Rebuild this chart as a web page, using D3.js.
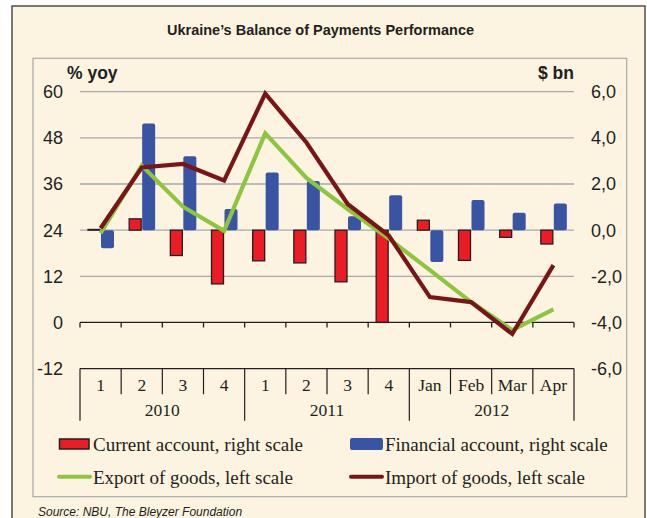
<!DOCTYPE html>
<html>
<head>
<meta charset="utf-8">
<script src="https://cdn.jsdelivr.net/npm/d3@7"></script>
<style>
  body { margin: 0; background: #ffffff; }
  text { fill: #231f20; }
</style>
</head>
<body>
<div id="main"></div>
<script>
// categories on the x axis
var periods = ["2010-1", "2010-2", "2010-3", "2010-4", "2011-1", "2011-2", "2011-3", "2011-4",
               "2012-01", "2012-02", "2012-03", "2012-04"];
var periodLabels = ["1", "2", "3", "4", "1", "2", "3", "4", "Jan", "Feb", "Mar", "Apr"];
var years = ["2010", "2011", "2012"];
var yearSpans = [4, 4, 4];

// series ($ bn, right scale)
var currentAccount = [0.03, 0.49, -1.1, -2.33, -1.33, -1.42, -2.24, -4.0, 0.43, -1.31, -0.31, -0.6];
var financialAccount = [-0.78, 4.62, 3.2, 0.92, 2.5, 2.13, 0.6, 1.51, -1.38, 1.31, 0.75, 1.15];
// series (% yoy, left scale)
var exportGoods = [23.2, 40.8, 30.1, 23.8, 49.2, 37.6, 29.5, 21.8, 13.6, 5.3, -2.0, 3.4];
var importGoods = [24.5, 40.3, 41.2, 36.9, 59.5, 46.8, 30.8, 22.6, 6.6, 5.3, -3.0, 14.9];

// ticks
var leftTicks = [60, 48, 36, 24, 12, 0, -12];
var rightTicks = [6, 4, 2, 0, -2, -4, -6];
var gridTicks = [60, 48, 36, 24, 12];

var ctx = {
    w: 647,
    h: 518,
    left: 80,
    right: 574,
    top: 91.7,
    bottom: 368.6,
    ink: "#231f20",
    red: "#ed1c24",
    blue: "#3a54a4",
    green: "#8cc63f",
    maroon: "#7a1517",
    beige: "#fcf3e1",
    grid: "#a7a9ac"
};

var loc = d3.formatLocale({decimal: ",", thousands: " ", grouping: [3], currency: ["", ""], minus: "-"});
var fmtLeft = loc.format("d");
var fmtRight = loc.format(".1f");

var createChart = function(svg) {
    // 1. frames
    svg.append("rect")
        .attr("x", 12).attr("y", 6)
        .attr("width", 633).attr("height", 530)
        .attr("fill", ctx.beige)
        .attr("stroke", "#4d4d4f")
        .attr("stroke-width", 1.5);
    svg.append("rect")
        .attr("x", 33).attr("y", 58.3)
        .attr("width", 593.7).attr("height", 438.4)
        .attr("fill", "none")
        .attr("stroke", "#a7a9ac")
        .attr("stroke-width", 1.2);

    svg.append("text")
        .attr("x", 320.5).attr("y", 35)
        .attr("text-anchor", "middle")
        .attr("textLength", 307)
        .attr("lengthAdjust", "spacingAndGlyphs")
        .style("font", "bold 15.5px 'Liberation Sans', Arial, sans-serif")
        .text("Ukraine\u2019s Balance of Payments Performance");

    // 2. scales
    var x = d3.scaleBand().domain(periods).range([ctx.left, ctx.right]).padding(0);
    var inner = d3.scaleBand().domain(["ca", "fa"]).range([8, 34]);
    var yL = d3.scaleLinear().domain([-12, 60]).range([ctx.bottom, ctx.top]);
    var yR = d3.scaleLinear().domain([-6, 6]).range([ctx.bottom, ctx.top]);

    // 2.a gridlines
    svg.append("g").selectAll("line")
        .data(gridTicks)
        .enter()
        .append("line")
        .attr("x1", ctx.left).attr("x2", ctx.right)
        .attr("y1", function(d) { return yL(d); })
        .attr("y2", function(d) { return yL(d); })
        .attr("stroke", ctx.grid)
        .attr("stroke-width", 1.3);

    // 2.b axis labels
    svg.append("g").selectAll("text")
        .data(leftTicks)
        .enter()
        .append("text")
        .attr("x", 63)
        .attr("y", function(d) { return yL(d); })
        .attr("dy", "0.36em")
        .attr("text-anchor", "end")
        .style("font", "18px 'Liberation Sans', Arial, sans-serif")
        .text(function(d) { return fmtLeft(d); });
    svg.append("g").selectAll("text")
        .data(rightTicks)
        .enter()
        .append("text")
        .attr("x", 591)
        .attr("y", function(d) { return yR(d); })
        .attr("dy", "0.36em")
        .style("font", "18px 'Liberation Sans', Arial, sans-serif")
        .text(function(d) { return fmtRight(d); });

    svg.append("text")
        .attr("x", 67).attr("y", 79)
        .style("font", "bold 17.5px 'Liberation Sans', Arial, sans-serif")
        .text("% yoy");
    svg.append("text")
        .attr("x", 538).attr("y", 79)
        .style("font", "bold 17.5px 'Liberation Sans', Arial, sans-serif")
        .text("$ bn");

    // 3. bars
    var barData = periods.map(function(p, i) {
        return {p: p, ca: currentAccount[i], fa: financialAccount[i]};
    });
    svg.append("g").selectAll("rect")
        .data(barData)
        .enter()
        .append("rect")
        .attr("x", function(d) { return x(d.p) + inner("fa"); })
        .attr("y", function(d) { return yR(Math.max(0, d.fa)); })
        .attr("width", inner.bandwidth())
        .attr("height", function(d) { return Math.abs(yR(d.fa) - yR(0)); })
        .attr("rx", 2)
        .attr("fill", ctx.blue);
    svg.append("g").selectAll("rect")
        .data(barData)
        .enter()
        .append("rect")
        .attr("x", function(d) { return x(d.p) + inner("ca"); })
        .attr("y", function(d) { return yR(Math.max(0, d.ca)); })
        .attr("width", inner.bandwidth() - 1)
        .attr("height", function(d) { return Math.abs(yR(d.ca) - yR(0)); })
        .attr("fill", ctx.red)
        .attr("stroke", ctx.ink)
        .attr("stroke-width", 1.3);

    // 3.b x axis at 0 (left scale) with ticks between categories
    var bounds = periods.map(function(p) { return x(p); }).concat([ctx.right]);
    var axis = svg.append("g");
    axis.append("line")
        .attr("x1", ctx.left).attr("x2", ctx.right)
        .attr("y1", yL(0)).attr("y2", yL(0))
        .attr("stroke", ctx.ink).attr("stroke-width", 1.3);
    axis.selectAll("line.tick")
        .data(bounds)
        .enter()
        .append("line")
        .attr("class", "tick")
        .attr("x1", function(d) { return d; }).attr("x2", function(d) { return d; })
        .attr("y1", yL(0)).attr("y2", yL(0) + 5)
        .attr("stroke", ctx.ink).attr("stroke-width", 1.3);

    // 4. lines
    var line = d3.line()
        .x(function(d, i) { return x(periods[i]) + x.bandwidth() / 2; })
        .y(function(d) { return yL(d); });
    svg.append("path")
        .datum(exportGoods)
        .attr("d", line)
        .attr("fill", "none")
        .attr("stroke", ctx.green)
        .attr("stroke-width", 4.2);
    svg.append("path")
        .datum(importGoods)
        .attr("d", line)
        .attr("fill", "none")
        .attr("stroke", ctx.maroon)
        .attr("stroke-width", 4.2);

    // 5. category table below
    var table = svg.append("g")
        .attr("stroke", ctx.ink)
        .attr("stroke-width", 1.2);
    table.append("line")
        .attr("x1", ctx.left).attr("x2", ctx.right)
        .attr("y1", ctx.bottom).attr("y2", ctx.bottom);
    var yearBounds = [0];
    yearSpans.forEach(function(n, i) { yearBounds.push(yearBounds[i] + n); });
    table.selectAll("line.sep")
        .data(bounds)
        .enter()
        .append("line")
        .attr("class", "sep")
        .attr("x1", function(d) { return d; }).attr("x2", function(d) { return d; })
        .attr("y1", ctx.bottom)
        .attr("y2", function(d, i) { return yearBounds.indexOf(i) >= 0 ? 420.7 : 394.3; });

    svg.append("g").selectAll("text")
        .data(periodLabels)
        .enter()
        .append("text")
        .attr("x", function(d, i) { return x(periods[i]) + x.bandwidth() / 2; })
        .attr("y", 385)
        .attr("dy", "0.35em")
        .attr("text-anchor", "middle")
        .style("font", "17.5px 'Liberation Serif', 'Times New Roman', serif")
        .text(function(d) { return d; });
    svg.append("g").selectAll("text")
        .data(years)
        .enter()
        .append("text")
        .attr("x", function(d, i) { return (bounds[yearBounds[i]] + bounds[yearBounds[i + 1]]) / 2; })
        .attr("y", 410)
        .attr("dy", "0.35em")
        .attr("text-anchor", "middle")
        .style("font", "17.5px 'Liberation Serif', 'Times New Roman', serif")
        .text(function(d) { return d; });

    // 6. legend
    var legFont = "19px 'Liberation Serif', 'Times New Roman', serif";
    svg.append("rect")
        .attr("x", 59.5).attr("y", 439).attr("width", 29.5).attr("height", 10)
        .attr("fill", ctx.red).attr("stroke", ctx.ink).attr("stroke-width", 1.5);
    svg.append("rect")
        .attr("x", 350).attr("y", 438).attr("width", 33).attr("height", 12)
        .attr("rx", 2).attr("fill", ctx.blue);
    svg.append("line")
        .attr("x1", 59).attr("x2", 90).attr("y1", 476.7).attr("y2", 476.7)
        .attr("stroke", ctx.green).attr("stroke-width", 4).attr("stroke-linecap", "round");
    svg.append("line")
        .attr("x1", 351).attr("x2", 382).attr("y1", 476.7).attr("y2", 476.7)
        .attr("stroke", ctx.maroon).attr("stroke-width", 4).attr("stroke-linecap", "round");
    var legendText = [
        {x: 93, y: 444, t: "Current account, right scale"},
        {x: 385, y: 444, t: "Financial account, right scale"},
        {x: 93, y: 477, t: "Export of goods, left scale"},
        {x: 385, y: 477, t: "Import of goods, left scale"}
    ];
    svg.append("g").selectAll("text")
        .data(legendText)
        .enter()
        .append("text")
        .attr("x", function(d) { return d.x; })
        .attr("y", function(d) { return d.y; })
        .attr("dy", "0.35em")
        .style("font", legFont)
        .text(function(d) { return d.t; });

    // 7. source
    svg.append("text")
        .attr("x", 38).attr("y", 516)
        .style("font", "italic 12px 'Liberation Sans', Arial, sans-serif")
        .text("Source: NBU, The Bleyzer Foundation");
};

var createViz = function() {
    var svgEl = d3.select("#main").append("svg")
        .attr("width", ctx.w)
        .attr("height", ctx.h)
        .style("display", "block");
    createChart(svgEl);
};

createViz();
</script>
</body>
</html>
